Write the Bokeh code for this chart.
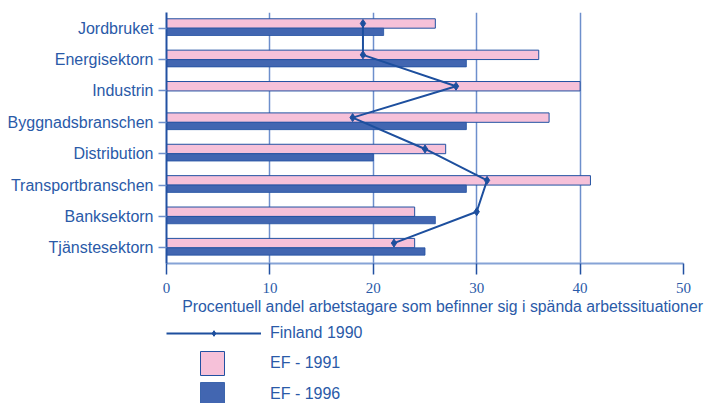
from bokeh.plotting import figure
from bokeh.layouts import column
from bokeh.models import (FactorRange, Range1d, Legend, LegendItem, Title,
                          FixedTicker, ColumnDataSource)
from bokeh.transform import dodge
from bokeh.embed import file_html
from bokeh.resources import INLINE

# ---- data ----
categories = ["Jordbruket", "Energisektorn", "Industrin", "Byggnadsbranschen",
              "Distribution", "Transportbranschen", "Banksektorn", "Tjänstesektorn"]
ef_1991 = [26, 36, 40, 37, 27, 41, 24, 24]
ef_1996 = [21, 29, None, 29, 20, 29, 26, 25]
finland_1990 = [19, 19, 28, 18, 25, 31, 30, 22]
x_ticks = [0, 10, 20, 30, 40, 50]
x_title = "Procentuell andel arbetstagare som befinner sig i spända arbetssituationer"
series_names = ["Finland 1990", "EF - 1991", "EF - 1996"]

TEXT = "#2a5aa8"
DARK = "#2251a2"
PINK = "#f6c1d9"
BLUE = "#4266b1"
GRID = "#6d8fcc"
LINE = "#1d4f9e"

src = ColumnDataSource(dict(
    cat=categories,
    ef91=ef_1991,
    ef96=[float("nan") if v is None else v for v in ef_1996],
    fin=finland_1990,
))

W = 704
H1 = 320
H2 = 83

p = figure(width=W, height=H1,
           y_range=FactorRange(factors=categories[::-1]),
           x_range=Range1d(0, 50),
           output_backend="svg", toolbar_location=None,
           min_border_left=166, min_border_right=21,
           min_border_top=12, min_border_bottom=H1 - 263)
p.outline_line_color = None

pink_style = dict(fill_color=PINK, line_color=DARK, line_width=1)
blue_style = dict(fill_color=BLUE, line_color=DARK, line_width=0.8)
line_style = dict(line_color=LINE, line_width=2)
pt_style = dict(marker="diamond", fill_color=LINE, line_color=LINE)

p.hbar(y=dodge("cat", 0.15, range=p.y_range), left=0, right="ef91",
       height=0.30, source=src, **pink_style)
p.hbar(y=dodge("cat", -0.117, range=p.y_range), left=0, right="ef96",
       height=0.233, source=src, **blue_style)
p.line(x="fin", y=dodge("cat", 0.15, range=p.y_range), source=src, **line_style)
p.scatter(x="fin", y=dodge("cat", 0.15, range=p.y_range), source=src, size=8, **pt_style)

# grid
p.ygrid.visible = False
p.xgrid.ticker = FixedTicker(ticks=x_ticks[1:])
p.xgrid.grid_line_color = GRID
p.xgrid.grid_line_width = 1.5

# x axis
xa = p.xaxis[0]
xa.ticker = FixedTicker(ticks=x_ticks)
xa.minor_tick_line_color = None
xa.axis_line_color = "#86a3d6"
xa.axis_line_width = 2
xa.major_tick_line_color = DARK
xa.major_tick_line_width = 1.5
xa.major_tick_out = 11
xa.major_tick_in = 0
xa.major_label_text_font = "Liberation Serif"
xa.major_label_text_font_size = "15px"
xa.major_label_text_color = TEXT
xa.major_label_standoff = 8

# y axis
ya = p.yaxis[0]
ya.axis_line_color = DARK
ya.axis_line_width = 2
ya.major_tick_line_color = GRID
ya.major_tick_line_width = 1.5
ya.major_tick_out = 8
ya.major_tick_in = 0
ya.major_label_text_font = "Liberation Sans"
ya.major_label_text_font_size = "16px"
ya.major_label_text_color = TEXT
ya.major_label_standoff = 5

# axis title (below panel)
p.add_layout(Title(text=x_title, align="left", offset=15.7, standoff=4,
                   vertical_align="top", text_font="Liberation Sans",
                   text_font_size="15.8px", text_font_style="normal",
                   text_color=TEXT), "below")

# ---- lower panel: legend ----
q = figure(width=W, height=H2, x_range=Range1d(0, 1), y_range=Range1d(0, 1),
           x_axis_type=None, y_axis_type=None,
           output_backend="svg", toolbar_location=None,
           min_border_left=0, min_border_right=0, min_border_top=0, min_border_bottom=0)
q.outline_line_color = None
q.grid.visible = False

# legend proxies: hidden renderers, only their legend swatches are shown
lg_line = q.line(x="fin", y="fin", source=src, visible=False, **line_style)
lg_pts = q.scatter(x="fin", y="fin", source=src, size=8, visible=False, **pt_style)
lg_pink = q.hbar(y="ef91", left=0, right="ef91", height=1, source=src, visible=False,
                 **pink_style)
lg_blue = q.hbar(y="ef91", left=0, right="ef96", height=1, source=src, visible=False,
                 **blue_style)

common = dict(padding=0, margin=0, border_line_color=None, background_fill_alpha=0,
              label_text_font="Liberation Sans", label_text_font_size="16px",
              label_text_color=TEXT, spacing=0, inactive_fill_alpha=0)
leg_a = Legend(items=[LegendItem(label=series_names[0], renderers=[lg_line, lg_pts])],
               location=(0, 58.4), glyph_width=95, glyph_height=14, label_height=23,
               label_standoff=9, **common)
leg_b1 = Legend(items=[LegendItem(label=series_names[1], renderers=[lg_pink])],
                location=(31, 18.4), glyph_width=30, glyph_height=30, label_height=44,
                label_standoff=43, **common)
leg_b2 = Legend(items=[LegendItem(label=series_names[2], renderers=[lg_blue])],
                location=(31, -12.5), glyph_width=30, glyph_height=30, label_height=44,
                label_standoff=43, **common)
q.add_layout(leg_a)
q.add_layout(leg_b1)
q.add_layout(leg_b2)

layout = column(p, q, spacing=0)
open("out.html", "w").write(file_html(layout, INLINE))
